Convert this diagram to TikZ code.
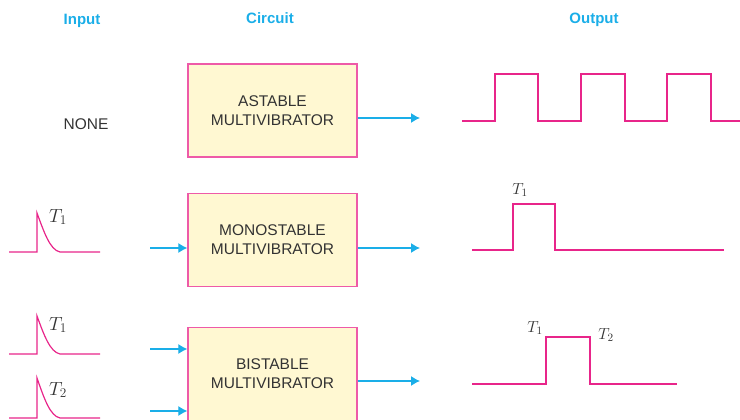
\RequirePackage{fix-cm}
\documentclass[tikz,border=0pt]{standalone}
\usepackage{fontspec}
\setmainfont{Liberation Sans}
\usetikzlibrary{arrows.meta}
\definecolor{wave}{HTML}{E8258A}
\definecolor{boxline}{HTML}{EE5AA8}
\definecolor{boxfill}{HTML}{FFF8D2}
\definecolor{arr}{HTML}{1AAEE8}
\definecolor{txt}{HTML}{333333}
\tikzset{
  mvbox/.style={draw=boxline, line width=1.3pt, fill=boxfill, minimum width=169pt, minimum height=93pt, inner sep=0pt, align=center, text=txt, font=\fontsize{15.5}{19}\selectfont},
  head/.style={text=arr, font=\bfseries\fontsize{15}{17}\selectfont},
  sig/.style={wave, line width=1.2pt},
  flow/.style={arr, line width=1.2pt, -{Latex[length=9pt,width=10pt]}},
  tin/.style={inner sep=0pt, text=txt, font=\fontsize{19}{22}\selectfont},
  tout/.style={inner sep=0pt, text=txt, font=\fontsize{16}{19}\selectfont}
}
\begin{document}
\begin{tikzpicture}[x=1pt,y=-1pt]
\useasboundingbox (0,0) rectangle (740,420);
% headers
\node[head] (hin) at (82,21) {Input};
\node[head] (hci) at (270,18) {Circuit};
\node[head] (hout) at (594,20) {Output};
% boxes
\node[mvbox] (ast) at (272.5,110.5) {ASTABLE\\MULTIVIBRATOR};
\node[mvbox] (mono) at (272.5,240) {MONOSTABLE\\MULTIVIBRATOR};
\node[mvbox] (bi) at (272.5,374) {BISTABLE\\MULTIVIBRATOR};
% NONE
\node[text=txt, font=\fontsize{15.5}{19}\selectfont] (none) at (86,124) {NONE};
% output arrows
\coordinate (oa) at (420,118);
\coordinate (om) at (420,248);
\coordinate (ob) at (420,381);
\draw[flow] (ast.east |- oa) -- (oa);
\draw[flow] (mono.east |- om) -- (om);
\draw[flow] (bi.east |- ob) -- (ob);
% input arrows
\coordinate (im) at (150,248);
\coordinate (ib1) at (150,349);
\coordinate (ib2) at (150,411);
\draw[flow] (im) -- (mono.west |- im);
\draw[flow] (ib1) -- (bi.west |- ib1);
\draw[flow] (ib2) -- (bi.west |- ib2);
% input pulses
\draw[sig] (9,252) -- (37,252) -- (37,213) .. controls (44,232) and (50,250) .. (60,252) -- (100,252);
\draw[sig] (9,354) -- (37,354) -- (37,316) .. controls (44,335) and (50,352) .. (60,354) -- (100,354);
\draw[sig] (9,418) -- (37,418) -- (37,378) .. controls (44,398) and (50,416) .. (60,418) -- (100,418);
\node[tin] (tin1) at (58,217) {$T_1$};
\node[tin] (tin2) at (58,325) {$T_1$};
\node[tin] (tin3) at (58,390) {$T_2$};
% astable output
\draw[sig] (462,121) -- (495,121) -- (495,74) -- (538,74) -- (538,121) -- (581,121) -- (581,74) -- (625,74) -- (625,121) -- (667,121) -- (667,74) -- (711,74) -- (711,121) -- (740,121);
% monostable output
\draw[sig] (472,250) -- (513,250) -- (513,204) -- (555,204) -- (555,250) -- (724,250);
\node[tout] (to1) at (520,190) {$T_1$};
% bistable output
\draw[sig] (472,384) -- (546,384) -- (546,337) -- (590,337) -- (590,384) -- (677,384);
\node[tout] (to2) at (535,328) {$T_1$};
\node[tout] (to3) at (606,335) {$T_2$};
\end{tikzpicture}
\end{document}
